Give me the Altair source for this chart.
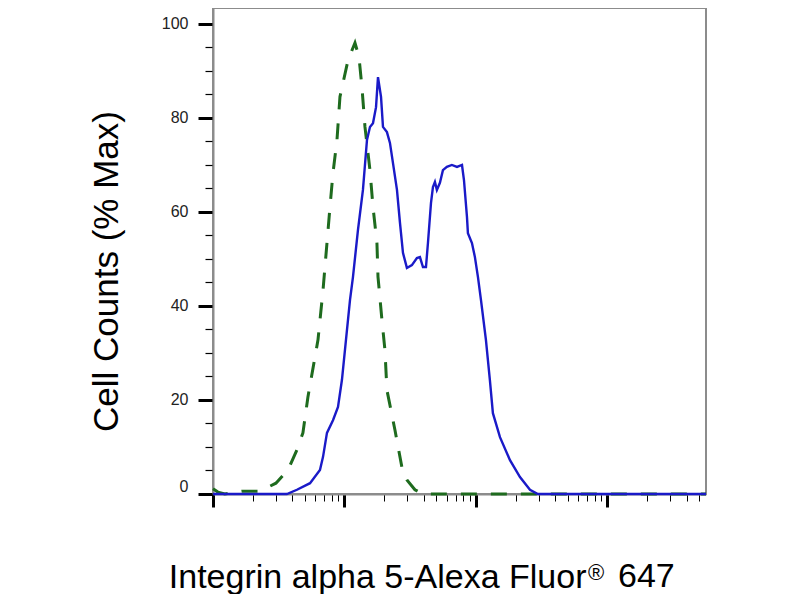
import altair as alt
import pandas as pd

# Control (isotype) histogram - green dashed
ctrl_x = [10, 10.9, 12.3, 16.6, 22.8, 30.1, 37.2, 43.5, 48.3, 52.7, 55.6, 62.9, 68.7, 73.6,
          77.6, 81.8, 87.7, 92.4, 106.4, 120.2, 128.9, 135.8, 143.2, 156.3, 164.8, 176.6,
          179.9, 192.8, 203.2, 210.4, 242.1, 278.6, 298.5, 343.6, 395.4, 1523, 56234]
ctrl_y = [1.1, 0.4, 0, 0.6, 0.6, 2.3, 5.1, 9.4, 13.0, 20.6, 24.3, 32.8, 43.4, 53.4,
          61.1, 68.3, 75.3, 84.5, 92.3, 96.0, 93.0, 86.6, 78.1, 68.9, 61.1, 53.4,
          46.2, 37.0, 30.6, 22.1, 13.6, 4.5, 3.0, 0.9, 0, 0, 0]

# Sample histogram - blue solid
samp_x = [10, 36.5, 43.5, 54.7, 65.1, 68.7, 73.6, 81.8, 89.3, 95.7, 104.5, 110.2, 116.1,
          126.7, 138.2, 148.3, 156.3, 164.8, 173.8, 179.9, 189.7, 196.3, 210.4, 221.8,
          233.9, 250.8, 264.4, 278.6, 298.5, 325.8, 355.6, 375.0, 395.4, 416.9, 431.5,
          455.0, 471.0, 487.6, 504.7, 532.1, 561.0, 601.2, 656.1, 717.7, 783.4, 810.9,
          854.9, 869.0, 932.6, 982.4, 1035.6, 1092.0, 1191.2, 1276.4, 1346.0, 1523.4,
          1815.5, 2162.7, 2576.2, 2958, 56234]
samp_y = [0, 0, 0.9, 2.3, 5.1, 7.9, 13.0, 15.7, 18.5, 24.3, 34.9, 41.3, 46.2,
          56.2, 64.7, 75.3, 78.1, 78.9, 82.3, 88.7, 84.5, 78.1, 77.0, 74.7,
          70.4, 64.7, 57.7, 51.3, 48.1, 48.7, 50.2, 50.4, 48.3, 48.3, 53.4,
          61.9, 65.3, 66.4, 64.7, 66.2, 68.9, 69.6, 70.0, 69.6, 70.0, 66.8,
          58.9, 55.5, 53.4, 50.4, 46.2, 41.3, 32.8, 24.3, 17.2, 12.1,
          7.2, 3.6, 0.9, 0, 0]

x_ticks = [10, 20, 30, 40, 50, 60, 70, 80, 90,
           100, 200, 300, 400, 500, 600, 700, 800, 900,
           1000, 2000, 3000, 4000, 5000, 6000, 7000, 8000, 9000,
           10000, 20000, 30000, 40000, 50000]
y_ticks = list(range(0, 101, 5))

x_title_main = "Integrin alpha 5-Alexa Fluor"
x_title_mark = ["®"]
x_title_tail = ["647"]
y_title = "Cell Counts (% Max)"

ctrl = pd.DataFrame({"x": ctrl_x, "y": ctrl_y})
samp = pd.DataFrame({"x": samp_x, "y": samp_y})

FRAME = "#8c8c8c"
FONT = "Liberation Sans"
major_x = "indexof([10,100,1000,10000], datum.value) >= 0"
major_y = "datum.value % 20 == 0"

x_enc = alt.X(
    "x:Q",
    scale=alt.Scale(type="log", domain=[10, 56234], nice=False),
    axis=alt.Axis(
        values=x_ticks, labels=False, grid=False,
        tickColor="black",
        tickWidth={"condition": {"test": major_x, "value": 3}, "value": 1},
        tickSize={"condition": {"test": major_x, "value": 13}, "value": 7},
        domainColor=FRAME, domainWidth=2,
        title=x_title_main,
        titleFont=FONT, titleFontSize=34, titleFontWeight="normal", titleColor="black",
        titleAlign="right", titleBaseline="alphabetic", titleX=373, titleY=93,
    ),
)
y_enc = alt.Y(
    "y:Q",
    scale=alt.Scale(domain=[0, 103.4], nice=False),
    axis=alt.Axis(
        values=y_ticks, grid=False,
        labelExpr="datum.value % 20 == 0 ? datum.label : ''",
        labelFont=FONT, labelFontSize=16, labelColor="#222222", labelFlush=True,
        labelPadding=10,
        tickColor="black",
        tickWidth={"condition": {"test": major_y, "value": 3}, "value": 1.2},
        tickSize={"condition": {"test": major_y, "value": 15}, "value": 8},
        domainColor=FRAME, domainWidth=2,
        title=y_title,
        titleFont=FONT, titleFontSize=35, titleFontWeight="normal", titleColor="black",
        titleAlign="center", titleBaseline="alphabetic", titleAngle=-90,
        titleX=-96, titleY=263,
    ),
)

ctrl_line = alt.Chart(ctrl).mark_line(
    color="#1e6b1e", strokeWidth=3, strokeDash=[16, 14]
).encode(x=x_enc, y=y_enc)

samp_line = alt.Chart(samp).mark_line(
    color="#1a1ac8", strokeWidth=2.4
).encode(x=x_enc, y=y_enc)

reg_mark = alt.Chart(pd.DataFrame({"t": x_title_mark})).mark_text(
    align="left", baseline="alphabetic", font=FONT, fontSize=22, color="black"
).encode(x=alt.value(375), y=alt.value(572), text="t:N")

tail_mark = alt.Chart(pd.DataFrame({"t": x_title_tail})).mark_text(
    align="left", baseline="alphabetic", font=FONT, fontSize=34, color="black"
).encode(x=alt.value(405), y=alt.value(579), text="t:N")

chart = alt.layer(ctrl_line, samp_line, reg_mark, tail_mark).properties(
    width=493, height=486,
    autosize=alt.AutoSizeParams(type="none"),
    padding={"left": 205, "top": 0, "right": 66, "bottom": 100},
).configure_view(stroke=FRAME, strokeWidth=2)

chart.save("out.html", embed_options={"renderer": "svg", "actions": False})
